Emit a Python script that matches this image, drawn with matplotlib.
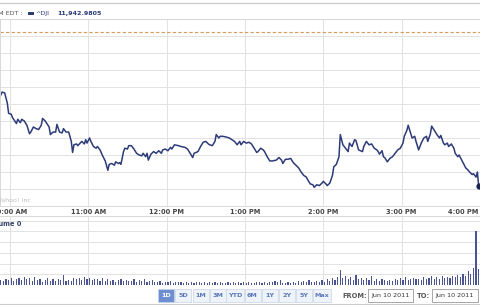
# Grafica intradia del ^DJI (10 jun 2011)
# precio arriba, volumen abajo, botones de rango al pie

import matplotlib.pyplot as plt
from matplotlib.patches import Rectangle
from matplotlib.lines import Line2D

# minutos desde las 9:30 de cada lectura
minutos = [
    22, 24, 26, 28, 29, 31, 32, 35, 36, 38, 39, 41, 43, 45, 46, 48, 50, 52, 54, 55,
    57, 60, 61, 63, 65, 66, 68, 70, 71, 73, 75, 77, 78, 79, 81, 82, 85, 87, 88, 89,
    91, 92, 94, 96, 97, 99, 101, 103, 105, 106, 108, 110, 111, 113, 114, 115, 117, 118, 120, 121,
    123, 125, 127, 129, 131, 132, 134, 135, 136, 138, 140, 142, 144, 146, 147, 149, 151, 153, 154, 156,
    159, 161, 164, 166, 168, 170, 171, 174, 176, 178, 180, 182, 183, 185, 187, 188, 190, 191, 193, 196,
    198, 200, 202, 204, 206, 207, 209, 211, 213, 215, 217, 219, 220, 222, 224, 225, 227, 229, 231, 234,
    236, 238, 239, 241, 243, 245, 247, 249, 251, 253, 255, 257, 258, 260, 262, 263, 265, 267, 269, 270,
    272, 273, 275, 277, 278, 280, 282, 283, 285, 287, 289, 290, 292, 294, 295, 297, 300, 301, 303, 305,
    307, 309, 311, 312, 313, 315, 316, 317, 319, 321, 323, 325, 327, 329, 331, 332, 334, 335, 337, 338,
    340, 341, 343, 345, 347, 349, 350, 352, 353, 355, 357, 359, 360, 362, 363, 365, 366, 368, 370, 371,
    373, 374, 376, 378, 379, 381, 382, 384, 385, 387, 388, 389,
]

# precio del indice en cada lectura
precios = [
    12047, 12054, 12053, 12041, 12029, 12028, 12024, 12017, 12022, 12018, 12022, 12020, 12015, 12005, 12007, 12013, 12011, 12010, 12015, 12023,
    12020, 12013, 12004, 12007, 12007, 12016, 12007, 12006, 12011, 12007, 12007, 11996, 11983, 11992, 11993, 11991, 11996, 11993, 11998, 11994,
    12000, 11996, 11990, 11988, 11990, 11986, 11979, 11973, 11962, 11969, 11970, 11968, 11972, 11970, 11971, 11969, 11984, 11988, 11987, 11991,
    11991, 11987, 11982, 11980, 11979, 11982, 11978, 11982, 11974, 11981, 11984, 11982, 11985, 11982, 11986, 11987, 11985, 11989, 11987, 11992,
    11991, 11990, 11989, 11987, 11982, 11977, 11982, 11984, 11990, 11995, 11996, 11993, 11992, 11991, 11996, 12004, 12000, 12002, 12002, 12001,
    12000, 11998, 11996, 11992, 11996, 11992, 11996, 11994, 11995, 11993, 11988, 11983, 11984, 11988, 11986, 11984, 11978, 11973, 11973, 11974,
    11977, 11974, 11970, 11975, 11975, 11976, 11971, 11968, 11965, 11960, 11956, 11954, 11951, 11946, 11945, 11942, 11945, 11944, 11947, 11949,
    11946, 11944, 11947, 11956, 11966, 11969, 11978, 12004, 11992, 11988, 11984, 11994, 11990, 11998, 11997, 11986, 11984, 11990, 11996, 11992,
    11993, 11988, 11986, 11984, 11981, 11985, 11978, 11977, 11972, 11976, 11978, 11982, 11986, 11988, 11994, 12002, 12009, 12015, 12005, 12000,
    12002, 11996, 11986, 11994, 12000, 12002, 11996, 12005, 12014, 12009, 12004, 12000, 12003, 11994, 11992, 11994, 11990, 11993, 11988, 11982,
    11978, 11980, 11974, 11968, 11965, 11962, 11960, 11957, 11958, 11954, 11960, 11943,
]

# cierre del dia anterior (linea punteada)
cierre_anterior = 12124.36
ultimo_valor = "11,942.9805"

# volumen cada 2 minutos, en millones
vol_minutos = list(range(23, 390, 2))
volumen = [
    2.2, 1.8, 3.0, 2.4, 3.5, 2.0, 2.8, 3.2, 2.5, 3.8,
    2.6, 3.3, 1.9, 3.6, 2.2, 2.9, 1.5, 2.4, 3.1, 2.0,
    2.7, 1.8, 3.0, 2.3, 4.6, 1.7, 2.5, 2.1, 3.4, 2.6,
    3.1, 2.2, 3.9, 2.8, 3.5, 2.4, 3.0, 2.6, 2.0, 3.3,
    2.1, 2.7, 1.8, 2.4, 1.6, 2.2, 2.9, 1.9, 2.5, 1.7,
    2.0, 2.6, 1.5, 2.3, 1.8, 2.8, 1.4, 1.9, 2.2, 1.6,
    1.3, 1.8, 1.1, 1.5, 1.2, 1.7, 1.0, 1.4, 1.2, 1.6,
    1.1, 1.5, 1.0, 1.3, 0.9, 1.4, 1.2, 1.0, 1.3, 1.1,
    1.4, 0.9, 1.2, 1.0, 1.5, 1.1, 0.8, 1.3, 1.0, 1.2,
    1.1, 1.4, 0.9, 1.2, 1.0, 1.3, 1.1, 0.9, 1.5, 1.2,
    1.0, 1.3, 1.1, 1.6, 1.2, 1.9, 1.4, 2.3, 1.1, 0.9,
    1.2, 1.0, 1.4, 1.1, 1.8, 1.3, 2.1, 1.5, 2.4, 1.2,
    1.6, 1.9, 1.3, 2.2, 1.5, 2.8, 2.0, 3.3, 2.4, 3.6,
    7.0, 3.1, 4.2, 2.6, 3.8, 2.2, 4.5, 2.9, 3.4, 2.5,
    3.2, 2.4, 4.0, 2.1, 2.8, 1.9, 2.6, 2.2, 1.8, 2.5,
    2.0, 2.7, 2.3, 3.1, 2.4, 3.6, 2.2, 2.9, 3.3, 2.6,
    3.0, 2.5, 3.8, 2.8, 3.4, 4.1, 2.9, 3.6, 2.7, 4.3,
    3.1, 3.9, 3.4, 4.4, 3.7, 4.8, 3.9, 5.0, 4.2, 6.5,
    5.2, 8.0, 25.0, 7.5,
]

# marcas de hora
horas = [30, 90, 150, 210, 270, 330, 390]
etiquetas_horas = ["10:00 AM", "11:00 AM", "12:00 PM", "1:00 PM", "2:00 PM", "3:00 PM", "4:00 PM"]

# botones de rango
botones = ["1D", "5D", "1M", "3M", "YTD", "6M", "1Y", "2Y", "5Y", "Max"]
fecha_desde = "Jun 10 2011"
fecha_hasta = "Jun 10 2011"

ANCHO, ALTO = 480, 305
AZUL = "#2d3b78"
GRIS_REJILLA = "#e2e2e2"


def fx(px):
    return px / ANCHO


def fy(py):
    return 1 - py / ALTO


fig = plt.figure(figsize=(4.8, 3.05), dpi=100)
fig.patch.set_facecolor("white")

# panel de precio
ax = fig.add_axes([0, fy(206), 1, 187 / ALTO])
ax.set_xlim(22.4, 389.2)
ax.set_ylim(11920, 12140)
ax.set_xticks(horas)
ax.set_yticks(range(11920, 12141, 20))
ax.grid(color=GRIS_REJILLA, lw=0.7)
ax.tick_params(length=0, labelbottom=False, labelleft=False)
for s in ax.spines.values():
    s.set_color("#d8d8d8")
    s.set_linewidth(0.7)

ax.axhline(cierre_anterior, color="#d9995a", ls=(0, (3, 2)), lw=0.8)
ax.plot(minutos, precios, color=AZUL, lw=1.1)
ax.plot(minutos[-1], precios[-1], "o", color="#1a2350", ms=3.5)

ax.text(31 / ANCHO, 6 / 187, "\u00a9 Yahoo! Inc", transform=ax.transAxes,
        ha="right", va="center", fontsize=4.5, color="#bbbbbb")

# etiquetas de hora
for h, et in zip(horas, etiquetas_horas):
    if h > 389:
        ax.text(388.8, -6 / 187, et, transform=ax.get_xaxis_transform(),
                ha="right", va="center", fontsize=4.8, fontweight="bold", color="#444444")
    else:
        ax.text(h, -6 / 187, et, transform=ax.get_xaxis_transform(),
                ha="center", va="center", fontsize=4.8, fontweight="bold", color="#444444")

# panel de volumen
ax2 = fig.add_axes([0, fy(285), 1, 69 / ALTO])
ax2.set_xlim(22.4, 389.2)
ax2.set_ylim(0, 32.2)
ax2.set_xticks(horas)
ax2.set_yticks([5, 10, 15, 20, 25, 30])
ax2.grid(color=GRIS_REJILLA, lw=0.7)
ax2.set_axisbelow(True)
ax2.tick_params(length=0, labelbottom=False, labelleft=False)
for s in ax2.spines.values():
    s.set_visible(False)
ax2.spines["top"].set_visible(True)
ax2.spines["top"].set_color("#d8d8d8")
ax2.spines["top"].set_linewidth(0.7)
ax2.bar(vol_minutos, volumen, width=0.9, color="#4a5590", linewidth=0)

fig.text(fx(21), fy(224), "Volume 0", ha="right", va="center",
         fontsize=4.8, fontweight="bold", color="#334466")

# cabecera con la leyenda
fig.add_artist(Line2D([0, 1], [fy(2.5)] * 2, color="#cccccc", lw=1))
fig.text(fx(23), fy(13), "Jun 10, 4:00 PM EDT :", ha="right", va="center",
         fontsize=4.6, color="#555555")
fig.add_artist(Rectangle((fx(28), fy(14.5)), fx(5.5), 2.5 / ALTO,
                         facecolor=AZUL, edgecolor="none"))
fig.text(fx(35), fy(13), "^DJI", ha="left", va="center", fontsize=4.6, color=AZUL)
fig.text(fx(57), fy(13), ultimo_valor, ha="left", va="center",
         fontsize=4.6, fontweight="bold", color=AZUL)

# botones de rango
for i, b in enumerate(botones):
    cx = 166 + 17.3 * i
    w = 18 if b in ("YTD", "Max") else 16
    sel = i == 0
    fig.add_artist(Rectangle((fx(cx - w / 2), fy(302)), fx(w), 13 / ALTO,
                             facecolor="#6d8fcf" if sel else "#eef2f9",
                             edgecolor="#c9d3e6", lw=0.5))
    fig.text(fx(cx), fy(295.5), b, ha="center", va="center", fontsize=4.6,
             fontweight="bold", color="white" if sel else "#5a78b8")

fig.text(fx(367), fy(295.5), "FROM:", ha="right", va="center",
         fontsize=4.8, fontweight="bold", color="#555555")
fig.add_artist(Rectangle((fx(368), fy(302)), fx(45), 13 / ALTO,
                         facecolor="white", edgecolor="#999999", lw=0.6))
fig.text(fx(390.5), fy(295.5), fecha_desde, ha="center", va="center",
         fontsize=4.6, color="#333333")
fig.text(fx(430), fy(295.5), "TO:", ha="right", va="center",
         fontsize=4.8, fontweight="bold", color="#555555")
fig.add_artist(Rectangle((fx(432), fy(302)), fx(46), 13 / ALTO,
                         facecolor="white", edgecolor="#999999", lw=0.6))
fig.text(fx(455), fy(295.5), fecha_hasta, ha="center", va="center",
         fontsize=4.6, color="#333333")

fig.add_artist(Line2D([0, 1], [fy(304)] * 2, color="#cccccc", lw=0.8))

fig.savefig("out.png", dpi=100)
